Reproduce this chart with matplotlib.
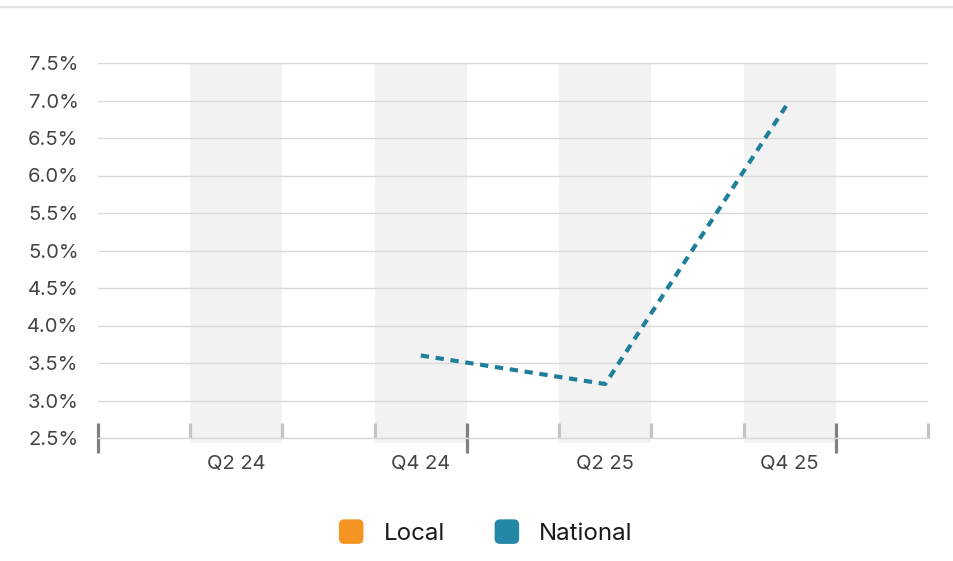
import matplotlib
matplotlib.use("Agg")
import matplotlib.pyplot as plt
from matplotlib.lines import Line2D
from matplotlib.patches import FancyBboxPatch, Patch
from matplotlib.legend_handler import HandlerPatch
from matplotlib.ticker import FuncFormatter

plt.rcParams['font.family'] = ['Inter', 'DejaVu Sans']

# quarters from Q1 24 to Q1 26, indexed 0..8
quarters = ['Q1 24', 'Q2 24', 'Q3 24', 'Q4 24', 'Q1 25', 'Q2 25', 'Q3 25', 'Q4 25', 'Q1 26']
labelled = ['Q2 24', 'Q4 24', 'Q2 25', 'Q4 25']
year_starts = ['Q1 24', 'Q1 25', 'Q1 26']

national_q = ['Q4 24', 'Q2 25', 'Q4 25']
national_vals = [3.6, 3.22, 7.0]
local_q = []
local_vals = []

y_ticks = [2.5, 3.0, 3.5, 4.0, 4.5, 5.0, 5.5, 6.0, 6.5, 7.0, 7.5]

orange = '#F39423'
teal = '#2387A6'
line_teal = '#1F7F9A'

W, H = 954, 561
fig = plt.figure(figsize=(W / 100, H / 100), dpi=100)
ax = fig.add_axes([98 / W, 1 - 438 / H, (928 - 98) / W, (438 - 63) / H])

idx = {q: i for i, q in enumerate(quarters)}

# shaded bands behind labelled quarters
for q in labelled:
    i = idx[q]
    ax.axvspan(i - 0.5, i + 0.5, ymin=-0.012, ymax=1, color='#F2F2F2', zorder=0, lw=0, clip_on=False)

ax.set_xlim(-0.5, len(quarters) - 0.5)
ax.set_ylim(y_ticks[0], y_ticks[-1])

ax.set_yticks(y_ticks)
ax.yaxis.set_major_formatter(FuncFormatter(lambda v, p: f'{v:.1f}%'))
ax.tick_params(axis='y', length=0, pad=14, labelsize=14.5, labelcolor='#444444')
ax.grid(axis='y', color='#D9D9D9', lw=1, zorder=1)
ax.set_axisbelow(True)

for s in ['top', 'right', 'left']:
    ax.spines[s].set_visible(False)
ax.spines['bottom'].set_color('#D9D9D9')
ax.spines['bottom'].set_linewidth(1)

# boundary ticks: dark at year starts, light elsewhere
bounds = [i - 0.5 for i in range(len(quarters) + 1)]
major = [idx[q] - 0.5 for q in year_starts]
minor = [b for b in bounds if b not in major]
ax.set_xticks(major)
ax.set_xticks(minor, minor=True)
ax.set_xticklabels([])
ax.tick_params(axis='x', which='major', direction='inout', length=22, width=2.3, color='#808080')
ax.tick_params(axis='x', which='minor', direction='in', length=11, width=2.3, color='#C4C4C4')

sec = ax.secondary_xaxis('bottom')
sec.set_xticks([idx[q] for q in labelled])
sec.set_xticklabels(labelled)
sec.tick_params(length=0, pad=12, labelsize=14.5, labelcolor='#444444')
sec.spines['bottom'].set_visible(False)

ax.plot([idx[q] for q in national_q], national_vals, color=line_teal, lw=3,
        linestyle=(0, (2.0, 1.6)), zorder=3, dash_capstyle='butt')
if local_q:
    ax.plot([idx[q] for q in local_q], local_vals, color=orange, lw=3, linestyle=(0, (2.0, 1.6)), zorder=3)

# thin rule along the top
fig.add_artist(Line2D([0, 1], [1 - 7 / H, 1 - 7 / H], color='#E3E3E3', lw=1.6, transform=fig.transFigure))


def rounded_square(legend, orig_handle, xdescent, ydescent, width, height, fontsize):
    s = min(width, height * 1.35)
    return FancyBboxPatch((-xdescent + (width - s) / 2, -ydescent + (height - s) / 2), s, s,
                          boxstyle='round,pad=0,rounding_size=%f' % (s * 0.2))


handles = [Patch(color=orange, label='Local'), Patch(color=teal, label='National')]
fig.legend(handles=handles, loc='center', bbox_to_anchor=(486 / W, 1 - 534 / H), ncol=2,
           frameon=False, fontsize=17.3, handlelength=0.98, handleheight=0.72,
           handletextpad=0.85, columnspacing=2.1, labelcolor='#1A1A1A',
           handler_map={Patch: HandlerPatch(patch_func=rounded_square)})

fig.savefig('out.png', dpi=100)
